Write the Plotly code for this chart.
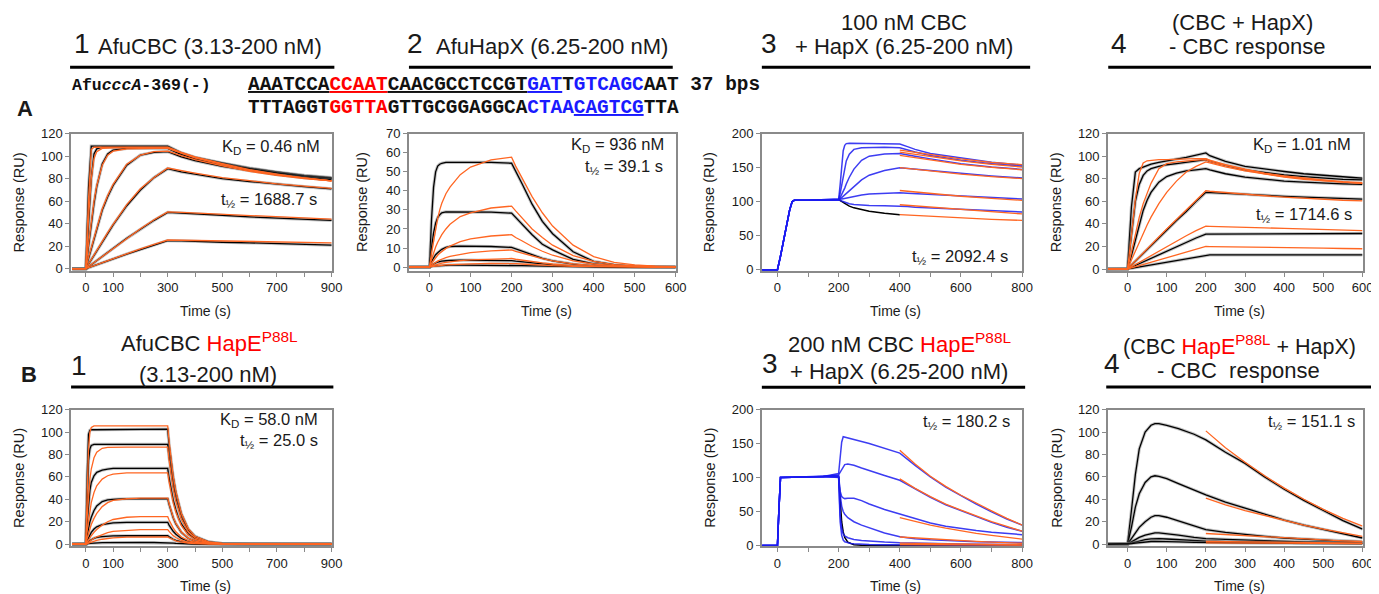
import plotly.graph_objects as go

# Layout positions below are given in the reference's pixel space (1379x594).
# The page is photographed with a small fixed offset/scale, which is undone here.
FIG_W, FIG_H = 1395, 594
X0, SX = 8.0, 0.991
Y0, SY = 14.5, 0.977
def fx(p): return ((p - X0) / SX) / FIG_W
def fy(p): return 1 - ((p - Y0) / SY) / FIG_H

FONT = "Arial, Liberation Sans, Helvetica, sans-serif"
MONO = "Liberation Mono, Courier New, monospace"
ORANGE = "#ff6622"
BLUE = "#1c1cf0"
RED = "#ff0000"
SEQBLUE = "#1a1aff"
FRAME = "#8a8a8a"

# ---------------- Panel A1: AfuCBC (3.13-200 nM) ----------------
A1_t = [-50, 0, 10, 20, 30, 40, 60, 80, 100, 150, 200, 250, 300, 350, 400, 500, 600, 700, 800, 900]
A1_data = [
    [0, 0, 72, 109, 109, 109, 109, 109, 109, 109, 109, 109, 109, 103, 99, 94, 89.5, 86, 83, 81],
    [0, 0, 40, 80, 102, 106.5, 108, 108, 108, 108, 108, 108, 108, 102.5, 98.5, 93.5, 89, 85.5, 82.5, 80.5],
    [0, 0, 20, 40, 58, 73, 93, 102, 105.5, 107, 107, 107, 107, 101.5, 97.5, 92.5, 88.5, 85, 82, 80],
    [0, 0, 9, 18, 27, 35, 52, 64, 74, 92, 101, 103.5, 104, 99.5, 96, 91, 87, 83.5, 81, 79],
    [0, 0, 4, 8, 12, 16, 24, 31.5, 39, 56, 70, 81, 89, 86, 84, 80, 77.5, 75, 73, 71],
    [0, 0, 1.8, 3.6, 5.4, 7.2, 10.8, 14.4, 18, 27, 35, 43, 50, 49.5, 48.5, 47.5, 46, 45, 44, 43],
    [0, 0, 0.9, 1.8, 2.7, 3.6, 5.3, 7, 8.8, 13, 17, 21, 25, 24.7, 24.2, 23.5, 23, 22.2, 21.5, 21],
]
A1_fit = [
    [0, 0, 62, 106, 108, 108, 108, 108, 108, 108, 108, 108, 108, 103.5, 99.5, 93.5, 88, 84, 80.5, 78],
    [0, 0, 45, 80, 98, 104, 107, 107.5, 107.5, 107.5, 107.5, 107.5, 107.5, 103, 99, 93, 87.5, 83.5, 80.5, 78],
    [0, 0, 22, 42, 60, 74, 92, 101, 104.5, 106.5, 107, 107, 107, 102.5, 98.5, 92.5, 87.5, 83.5, 80.5, 78],
    [0, 0, 10, 19, 28, 36, 53, 65, 75, 93, 101, 104, 104.5, 100.5, 97, 91.5, 86.5, 83, 80, 78],
    [0, 0, 4.2, 8.3, 12.4, 16.4, 24.4, 32, 39.5, 57, 71, 81, 89.5, 87, 85, 81, 78, 75.5, 73.5, 71.5],
    [0, 0, 1.9, 3.7, 5.5, 7.3, 11, 14.6, 18.3, 27.3, 35.5, 43.5, 50.5, 50, 49.5, 48.5, 47.5, 46, 45, 44],
    [0, 0, 1, 1.9, 2.8, 3.7, 5.5, 7.3, 9.1, 13.5, 17.6, 21.7, 25.5, 25.3, 25.1, 24.7, 24.3, 23.8, 23.4, 23],
]

# ---------------- Panel A2: AfuHapX (6.25-200 nM) ----------------
A2_t = [-50, 0, 5, 10, 15, 20, 25, 30, 40, 50, 75, 100, 150, 200, 210, 225, 250, 275, 300, 350, 400, 450, 500, 550, 600]
A2_data = [
    [0, 0, 25, 42, 50, 53, 54, 54.5, 55, 55, 55, 55, 55, 54.5, 50, 44, 33, 24, 17.5, 8, 3, 1.2, 0.4, 0.1, 0],
    [0, 0, 10, 18, 23, 26, 27.5, 28.5, 29, 29, 29, 29, 28.8, 28.3, 26, 23, 17, 12, 9, 4, 1.6, 0.6, 0.2, 0, 0],
    [0, 0, 3, 5, 6.5, 7.5, 8.5, 9.3, 10.3, 10.8, 11, 11, 10.8, 10.3, 9.5, 8.5, 6.5, 4.6, 3.3, 1.5, 0.6, 0.2, 0.1, 0, 0],
    [0, 0, 1, 1.7, 2.2, 2.6, 2.9, 3.1, 3.3, 3.5, 3.6, 3.6, 3.5, 3.4, 3.1, 2.8, 2.2, 1.6, 1.1, 0.5, 0.2, 0.1, 0, 0, 0],
    [0, 0, 0.3, 0.5, 0.6, 0.7, 0.8, 0.85, 0.9, 1, 1, 1, 1, 0.9, 0.85, 0.75, 0.6, 0.45, 0.3, 0.15, 0.05, 0, 0, 0, 0],
]
A2_fit = [
    [0, 0, 7.5, 14, 20, 25.5, 30, 33.5, 38.5, 42, 48.5, 52.5, 56.3, 57.7, 53, 47, 37, 28.5, 21.5, 11.5, 5.5, 2.5, 1.1, 0.5, 0.2],
    [0, 0, 4, 7.5, 10.5, 13, 15, 17, 20, 22.5, 26.5, 28.5, 31, 32, 29.5, 26, 20, 15.5, 11.5, 6, 3, 1.3, 0.6, 0.3, 0.1],
    [0, 0, 2, 3.5, 5, 6.2, 7.2, 8.2, 9.8, 11, 13.3, 14.8, 16.3, 17, 15.5, 13.8, 10.8, 8.3, 6.2, 3.2, 1.6, 0.7, 0.3, 0.1, 0],
    [0, 0, 1, 1.8, 2.5, 3.1, 3.7, 4.2, 5, 5.6, 6.8, 7.6, 8.5, 9, 8.2, 7.3, 5.7, 4.4, 3.3, 1.7, 0.8, 0.4, 0.2, 0.1, 0],
    [0, 0, 0.5, 0.9, 1.3, 1.6, 1.9, 2.1, 2.5, 2.8, 3.4, 3.8, 4.3, 4.5, 4.1, 3.6, 2.8, 2.2, 1.6, 0.8, 0.4, 0.2, 0.1, 0, 0],
    [0, 0, 0.2, 0.4, 0.6, 0.7, 0.85, 0.95, 1.1, 1.25, 1.5, 1.7, 1.9, 2, 1.8, 1.6, 1.25, 0.95, 0.7, 0.35, 0.18, 0.08, 0.04, 0, 0],
]

# ---------------- Panel A3: 100 nM CBC + HapX ----------------
A3_t1 = [-50, 0, 10, 20, 30, 40, 48, 55, 100, 150]
A3_assoc = [0, 0, 20, 42, 65, 88, 100, 102, 102, 102.5]
A3_t2 = [200, 205, 210, 215, 220, 225, 235, 250, 275, 300, 350, 400, 425, 450, 500, 600, 700, 800]
A3_hapx = [
    [103, 125, 155, 175, 183, 185.5, 186, 186, 186, 186, 185.5, 185, 181, 177, 171, 164, 158, 154],
    [103, 112, 125, 140, 152, 160, 170, 177, 179.5, 180, 180, 179.5, 176, 173, 168, 161, 156, 152],
    [103, 106, 110, 115, 120, 126, 136, 148, 161, 167, 170, 171, 169.5, 167, 163, 156, 151, 147.5],
    [103, 104, 106, 108, 110, 112, 116, 122, 132, 139, 146, 150, 149, 148, 145.5, 141, 138, 135],
    [103, 103.5, 104, 104.5, 105, 105.5, 106.5, 108, 110, 111.5, 112.5, 113, 112.5, 112, 110.5, 108, 106, 104],
    [103, 102, 101, 100, 99, 98, 97, 96, 95, 94.5, 94, 94, 93, 92, 91, 89, 87, 85],
]
A3_cbc = [103, 102, 100.5, 99, 97.5, 96, 93.5, 91, 88, 86, 83, 81]
A3_tf = [400, 500, 600, 700, 800]
A3_fit = [
    [176, 169, 163, 158, 154.5],
    [173, 166, 160, 155, 151],
    [168, 161, 155, 150.5, 147],
    [150, 145, 140.5, 137, 134],
    [116.5, 112, 108, 105, 102],
    [95.5, 92, 88.5, 85, 82],
    [81, 78.5, 76, 74, 72.5],
]

# ---------------- Panel A4: (CBC + HapX) - CBC response ----------------
A4_t = [-50, 0, 10, 20, 30, 40, 50, 60, 80, 100, 125, 150, 175, 200, 210, 225, 250, 300, 350, 400, 450, 500, 550, 600]
A4_data = [
    [0, 0, 55, 86, 89, 90.5, 92, 93, 94.5, 96, 97.5, 99, 101, 103, 100.5, 98.5, 95.5, 91, 88.5, 86.5, 84.5, 83, 81.5, 80.5],
    [0, 0, 30, 60, 75, 83, 87, 89, 91, 92.5, 93.5, 94.5, 95.5, 97, 95.5, 94, 92, 88, 85.5, 83.5, 82, 80.5, 79.5, 79],
    [0, 0, 12, 26, 40, 52, 61, 68, 77, 82, 85, 87, 88, 89, 88, 86.5, 84.5, 81.5, 79.5, 78, 77, 76, 75.5, 75],
    [0, 0, 3.5, 7, 10.5, 14, 17.5, 21, 28, 35, 43, 51, 60, 68, 67.8, 67.5, 67, 66, 65.3, 64.5, 63.8, 63, 62.5, 62],
    [0, 0, 1.6, 3.2, 4.8, 6.4, 8, 9.6, 12.8, 16, 20, 24, 27.5, 31, 31, 31.2, 31.3, 31.5, 31.5, 31.5, 31.5, 31.5, 31.5, 31.5],
    [0, 0, 0.6, 1.3, 1.9, 2.6, 3.2, 3.9, 5.2, 6.5, 8, 9.5, 11, 12.5, 12.5, 12.5, 12.5, 12.5, 12.5, 12.5, 12.5, 12.5, 12.5, 12.5],
]
A4_fit = [
    [0, 0, 30, 62, 85, 94, 96, 96.5, 97, 97, 97.5, 97.5, 98, 98, 96.5, 95, 92.5, 88.5, 85, 82.5, 80.5, 79, 77.5, 76.5],
    [0, 0, 15, 31, 46, 58, 68, 76, 89, 93.5, 95, 96, 96.5, 97, 95.5, 94, 92, 88, 84.5, 82, 80, 78.5, 77, 76],
    [0, 0, 8, 16, 24, 32, 39, 46, 58, 68, 78, 86, 91, 95, 94, 92.5, 90.5, 87, 84, 81.5, 79.5, 78, 77, 76],
    [0, 0, 3.6, 7.2, 10.8, 14.4, 18, 21.5, 28.5, 35.5, 44, 52.5, 61, 69.5, 69, 68.5, 67.8, 66.5, 65, 63.8, 62.8, 62, 61, 60.5],
    [0, 0, 2, 4, 6, 8, 10, 12, 16, 20, 25, 29.5, 34, 38, 37.9, 37.7, 37.5, 37, 36.5, 36, 35.5, 35, 34.5, 34],
    [0, 0, 1, 2, 3, 4, 5, 6, 8, 10, 12.5, 15, 17.5, 20, 19.9, 19.8, 19.7, 19.5, 19.2, 19, 18.7, 18.5, 18.2, 18],
]

# ---------------- Panel B1: AfuCBC HapE P88L ----------------
B1_t = [-50, 0, 5, 10, 15, 20, 30, 40, 60, 80, 100, 150, 200, 250, 300, 305, 310, 320, 330, 340, 350, 375, 400, 450, 500, 600, 700, 800, 900]
B1_data = [
    [0, 0, 60, 98, 101.5, 102, 102, 102, 102, 102, 102.5, 102.5, 102.5, 102.5, 102.5, 89, 78, 60, 46, 35, 27, 13.5, 7, 2, 0.6, 0.1, 0, 0, 0],
    [0, 0, 40, 75, 85, 88, 89, 89, 89, 89, 89, 89, 89, 89, 89, 77.5, 68, 52, 40, 30.5, 23.5, 11.7, 6, 1.8, 0.5, 0.1, 0, 0, 0],
    [0, 0, 20, 38, 48, 55, 61, 64, 66, 67, 67.5, 67.5, 67.5, 67.5, 67.5, 59, 51.5, 39.5, 30.5, 23, 18, 9, 4.5, 1.4, 0.4, 0.1, 0, 0, 0],
    [0, 0, 8, 15, 20, 24, 30, 34, 38, 39.5, 40, 40.5, 40.5, 40.5, 40.5, 35.5, 31, 23.5, 18, 14, 10.5, 5.3, 2.7, 0.8, 0.2, 0, 0, 0, 0],
    [0, 0, 3, 6, 8.5, 10.5, 13.5, 15.5, 17.5, 18.5, 19, 19.5, 19.5, 19.5, 19.5, 17, 15, 11.5, 8.8, 6.7, 5.1, 2.6, 1.3, 0.4, 0.1, 0, 0, 0, 0],
    [0, 0, 1.2, 2.3, 3.2, 4, 5.2, 6, 6.8, 7.2, 7.4, 7.5, 7.5, 7.5, 7.5, 6.6, 5.7, 4.4, 3.4, 2.6, 2, 1, 0.5, 0.15, 0, 0, 0, 0, 0],
    [0, 0, 0.3, 0.5, 0.7, 0.8, 1, 1.2, 1.3, 1.4, 1.5, 1.5, 1.5, 1.5, 1.5, 1.3, 1.1, 0.9, 0.7, 0.5, 0.4, 0.2, 0.1, 0, 0, 0, 0, 0, 0],
]
B1_fit = [
    [0, 0, 45, 85, 100, 104, 105.5, 105.5, 105.5, 105.5, 105.5, 105.5, 105.5, 105.5, 105.5, 92, 80, 61, 47, 36, 27.5, 14, 7, 2, 0.6, 0.1, 0, 0, 0],
    [0, 0, 25, 45, 58, 67, 77, 82, 85.5, 86.3, 86.5, 86.5, 86.5, 86.5, 86.5, 75, 66, 50, 38.5, 29.5, 22.5, 11.3, 5.7, 1.5, 0.4, 0.1, 0, 0, 0],
    [0, 0, 12, 22, 30, 37, 46, 52, 58, 61, 62.5, 63.5, 63.5, 63.5, 63.5, 55.5, 48.5, 37, 28.5, 21.5, 16.5, 8.3, 4.2, 1.1, 0.3, 0, 0, 0, 0],
    [0, 0, 5, 10, 14, 17.5, 23, 27.5, 33.5, 37, 39, 40.5, 41, 41, 41, 36, 31.5, 24, 18.5, 14, 10.8, 5.4, 2.7, 0.7, 0.2, 0, 0, 0, 0],
    [0, 0, 2, 4, 5.8, 7.5, 10.5, 13, 17, 20, 22, 24, 24.5, 24.5, 24.5, 21.5, 19, 14.5, 11, 8.4, 6.4, 3.2, 1.6, 0.4, 0.1, 0, 0, 0, 0],
    [0, 0, 1, 2, 2.9, 3.8, 5.3, 6.6, 8.8, 10.3, 11.4, 12.5, 13, 13, 13, 11.4, 10, 7.6, 5.9, 4.5, 3.4, 1.7, 0.9, 0.2, 0, 0, 0, 0, 0],
    [0, 0, 0.5, 1, 1.5, 1.9, 2.7, 3.3, 4.4, 5.2, 5.7, 6.3, 6.5, 6.5, 6.5, 5.7, 5, 3.8, 2.9, 2.2, 1.7, 0.9, 0.4, 0.1, 0, 0, 0, 0, 0],
]

# ---------------- Panel B3: 200 nM CBC HapE P88L + HapX ----------------
B3_t1 = [-50, 0, 5, 10, 50, 100, 150]
B3_assoc = [0, 0, 55, 100, 100.5, 101, 101.5]
B3_t2 = [200, 205, 210, 215, 220, 230, 240, 250, 275, 300, 350, 400, 450, 500, 550, 600, 650, 700, 750, 800]
B3_hapx = [
    [106, 130, 152, 160, 159.5, 158, 157, 156, 153, 150, 143, 136, 118, 101, 86, 73, 61, 49.5, 39, 30],
    [104, 108, 113, 117, 119, 120, 119.5, 118, 114, 110, 103, 96, 83, 71, 60, 51, 42, 34, 27, 21],
    [103, 80, 72, 70, 69, 69.5, 70, 69.5, 66, 61, 53, 46, 39, 33, 28.5, 25, 22, 19.5, 17.5, 16],
    [102, 75, 58, 50, 46, 41, 38, 35, 30, 26, 18.5, 13, 10, 8.3, 7.2, 6.3, 5.6, 5, 4.6, 4.3],
    [101, 45, 25, 17, 14, 11.5, 10, 9, 7.5, 6.5, 5, 4, 3.3, 2.8, 2.4, 2.1, 1.9, 1.7, 1.5, 1.4],
    [100, 35, 15, 8, 5.5, 4, 3, 2.5, 1.8, 1.4, 1, 0.8, 0.6, 0.5, 0.4, 0.4, 0.3, 0.3, 0.3, 0.3],
]
B3_cbc = [101, 60, 35, 20, 12, 5, 2.5, 1.2, 0.3, 0, 0, 0, 0, 0, 0, 0, 0, 0, 0, 0]
B3_tf = [400, 450, 500, 550, 600, 650, 700, 750, 800]
B3_fit = [
    [140, 120, 102, 87, 74, 62, 51, 40, 30],
    [98, 84, 72, 61, 52, 43, 35, 28, 21],
    [41, 35, 30, 25.5, 21.5, 18, 15, 12, 9.5],
    [12.5, 11, 9.5, 8, 7, 6, 5, 4, 3.3],
    [3.5, 3.1, 2.7, 2.4, 2.1, 1.8, 1.5, 1.2, 1],
    [1.5, 1.3, 1.1, 1, 0.9, 0.8, 0.7, 0.6, 0.5],
]

# ---------------- Panel B4: (CBC HapE P88L + HapX) - CBC response ----------------
B4_t = [-50, 0, 10, 20, 30, 45, 60, 70, 80, 100, 130, 170, 200, 250, 300, 350, 400, 450, 500, 550, 600]
B4_data = [
    [0, 0, 30, 62, 85, 100, 106, 107.5, 107.5, 106, 103, 98, 93, 82, 72, 60, 49, 39, 30, 21, 13.5],
    [0, 0, 15, 33, 45, 55, 60, 61, 60.5, 58.5, 54, 48, 44, 37.5, 32, 26.5, 21.5, 17, 13, 9, 5.5],
    [0, 0, 5, 10, 15, 20, 24, 25.5, 25.5, 24, 20.5, 16, 13, 10.5, 8.5, 7, 5.5, 4.5, 3.5, 2.8, 2.2],
    [0, 0, 2, 4, 6, 8, 9.5, 10, 10, 9.3, 8, 6, 5, 4.2, 3.5, 3, 2.5, 2, 1.7, 1.4, 1.1],
    [0, 0, 1, 2, 3, 4, 4.7, 5, 5, 4.6, 4, 3.2, 2.7, 2.3, 2, 1.7, 1.4, 1.2, 1, 0.8, 0.7],
    [0, 0, 0.5, 1, 1.5, 2, 2.4, 2.5, 2.5, 2.3, 2, 1.6, 1.4, 1.2, 1, 0.9, 0.8, 0.7, 0.6, 0.5, 0.4],
]
B4_tf = [200, 250, 300, 350, 400, 450, 500, 550, 600]
B4_fit = [
    [101, 86, 73, 61, 50, 40, 31, 23, 16],
    [41, 35, 30, 25.5, 21, 17, 13.5, 10, 7],
    [9.5, 8.5, 7.5, 6.5, 5.5, 4.6, 3.8, 3, 2.4],
    [2.5, 2.3, 2.1, 1.9, 1.7, 1.5, 1.3, 1.1, 1],
    [1.2, 1.1, 1, 0.9, 0.8, 0.7, 0.6, 0.5, 0.4],
]

# ---------------- figure ----------------
fig = go.Figure()

def axref(n):
    return ("x", "y") if n == 1 else (f"x{n}", f"y{n}")

def data_line(n, t, v, color="black", halo=True, width=1.3, opacity=1.0):
    xa, ya = axref(n)
    if halo:
        fig.add_trace(go.Scatter(x=t, y=v, mode="lines", xaxis=xa, yaxis=ya,
                                 line=dict(color="rgba(120,120,120,0.45)", width=3.2),
                                 hoverinfo="skip", showlegend=False))
    fig.add_trace(go.Scatter(x=t, y=v, mode="lines", xaxis=xa, yaxis=ya, opacity=opacity,
                             line=dict(color=color, width=width),
                             hoverinfo="skip", showlegend=False))

def fit_line(n, t, v):
    xa, ya = axref(n)
    fig.add_trace(go.Scatter(x=t, y=v, mode="lines", xaxis=xa, yaxis=ya,
                             line=dict(color=ORANGE, width=1.3),
                             hoverinfo="skip", showlegend=False))

for v in A1_data: data_line(1, A1_t, v)
for v in A1_fit: fit_line(1, A1_t, v)
for v in A2_data: data_line(2, A2_t, v)
for v in A2_fit: fit_line(2, A2_t, v)
data_line(3, A3_t2[:len(A3_cbc)], A3_cbc, halo=False, width=1.5)
for v in A3_hapx:
    data_line(3, A3_t1 + A3_t2, A3_assoc + v, color=BLUE, halo=False, width=1.5, opacity=0.85)
for v in A3_fit: fit_line(3, A3_tf, v)
for v in A4_data: data_line(4, A4_t, v)
for v in A4_fit: fit_line(4, A4_t, v)
for v in B1_data: data_line(5, B1_t, v)
for v in B1_fit: fit_line(5, B1_t, v)
data_line(6, B3_t2, B3_cbc, halo=False, width=1.5)
for v in B3_hapx:
    data_line(6, B3_t1 + B3_t2, B3_assoc + v, color=BLUE, halo=False, width=1.5, opacity=0.85)
for v in B3_fit: fit_line(6, B3_tf, v)
for v in B4_data: data_line(7, B4_t, v)
for v in B4_fit: fit_line(7, B4_tf, v)

# ---------------- axes ----------------
ROW_A = (133.3, 270.7)
ROW_B = (409.3, 546)
RIGHT = (1106.7, 1361)
specs = {
    1: dict(x=(71, 332), y=ROW_A, xr=[-54, 903], yr=[-2.1, 120], xt=[0, 100, 300, 500, 700, 900], yd=20, ytoff=52),
    2: dict(x=(408.3, 675), y=ROW_A, xr=[-50.5, 600], yr=[-2.1, 70], xt=[0, 100, 200, 300, 400, 500, 600], yd=10, ytoff=46),
    3: dict(x=(761, 1021), y=ROW_A, xr=[-51, 800], yr=[-2, 200], xt=[0, 200, 400, 600, 800], yd=50, ytoff=52),
    4: dict(x=RIGHT, y=ROW_A, xr=[-50, 600], yr=[-1.8, 120], xt=[0, 100, 200, 300, 400, 500, 600], yd=20, ytoff=51),
    5: dict(x=(71, 332), y=ROW_B, xr=[-54, 903], yr=[-1.8, 120], xt=[0, 100, 300, 500, 700, 900], yd=20, ytoff=52),
    6: dict(x=(761, 1021), y=ROW_B, xr=[-51, 800], yr=[-1, 200], xt=[0, 200, 400, 600, 800], yd=50, ytoff=52),
    7: dict(x=RIGHT, y=ROW_B, xr=[-50, 600], yr=[-1.8, 120], xt=[0, 100, 200, 300, 400, 500, 600], yd=20, ytoff=51),
}

layout_axes = {}
annotations = []
for n, s in specs.items():
    xk = "xaxis" if n == 1 else f"xaxis{n}"
    yk = "yaxis" if n == 1 else f"yaxis{n}"
    xa, ya = axref(n)
    common = dict(showline=True, linecolor=FRAME, linewidth=1.5, mirror=True,
                  ticks="outside", ticklen=4, tickwidth=1.2, tickcolor=FRAME,
                  showgrid=False, zeroline=False,
                  tickfont=dict(family=FONT, size=13, color="#1a1a1a"))
    layout_axes[xk] = dict(common, domain=[fx(s["x"][0]), fx(s["x"][1])], anchor=ya,
                           range=s["xr"], tickmode="array", tickvals=s["xt"],
                           minor=dict(dtick=100, tick0=0, ticks="outside", ticklen=4,
                                      tickwidth=1.2, tickcolor=FRAME, showgrid=False))
    layout_axes[yk] = dict(common, domain=[fy(s["y"][1]), fy(s["y"][0])], anchor=xa,
                           range=s["yr"], tickmode="linear", tick0=0, dtick=s["yd"])
    annotations.append(dict(text="Time (s)", xref="paper", yref="paper",
                            x=fx((s["x"][0] + s["x"][1]) / 2 + 4), y=fy(s["y"][1] + 39.5),
                            xanchor="center", yanchor="middle", showarrow=False,
                            font=dict(family=FONT, size=14, color="#1a1a1a")))
    annotations.append(dict(text="Response (RU)", xref="paper", yref="paper", textangle=-90,
                            x=fx(s["x"][0] - s["ytoff"]), y=fy((s["y"][0] + s["y"][1]) / 2),
                            xanchor="center", yanchor="middle", showarrow=False,
                            font=dict(family=FONT, size=14.5, color="#1a1a1a")))

def txt(text, x, y, size, xanchor="center", family=FONT, color="#1a1a1a"):
    annotations.append(dict(text=text, xref="paper", yref="paper", x=fx(x), y=fy(y),
                            xanchor=xanchor, yanchor="middle", showarrow=False,
                            font=dict(family=family, size=size, color=color)))

KD = "K<sub>D</sub> = "
TH = "t<sub>½</sub> = "
txt(KD + "0.46 nM", 322, 147, 16.5, "right")
txt(TH + "1688.7 s", 319, 200, 16.5, "right")
txt(KD + "936 nM", 665, 145, 16.5, "right")
txt(TH + "39.1 s", 664, 167, 16.5, "right")
txt(TH + "2092.4 s", 1009, 257, 16.5, "right")
txt(KD + "1.01 nM", 1351, 145, 16.5, "right")
txt(TH + "1714.6 s", 1352, 215, 16.5, "right")
txt(KD + "58.0 nM", 320, 420, 16.5, "right")
txt(TH + "25.0 s", 320, 441, 16.5, "right")
txt(TH + "180.2 s", 1011, 422, 16.5, "right")
txt(TH + "151.1 s", 1355, 422, 16.5, "right")

HS = 22
DS = 28
txt("1", 81.7, 43, DS)
txt("AfuCBC (3.13-200 nM)", 96, 46.5, HS, "left")
txt("2", 415, 43, DS)
txt("AfuHapX (6.25-200 nM)", 434, 46.5, HS, "left")
txt("100 nM CBC", 903, 22.5, HS)
txt("3", 768, 43, DS)
txt("+ HapX (6.25-200 nM)", 792, 46.5, HS, "left")
txt("(CBC + HapX)", 1241, 22.5, HS)
txt("4", 1118, 43, DS)
txt("- CBC response", 1246, 46.5, HS)

RH = f'<span style="color:{RED}">HapE<sup>P88L</sup></span>'
txt("AfuCBC " + RH, 209, 342, HS)
txt("(3.13-200 nM)", 208, 374, HS)
txt("1", 79, 365, DS)
txt("200 nM CBC " + RH, 898, 343, HS)
txt("+ HapX (6.25-200 nM)", 898, 371, HS)
txt("3", 769, 363, DS)
txt("(CBC " + RH + " + HapX)", 1238, 345, 21.5)
txt("- CBC  response", 1237, 370.5, HS)
txt("4", 1111, 363, DS)

txt("<b>A</b>", 25, 108, 22)
txt("<b>B</b>", 29, 374, 22)

R = f'<span style="color:{RED}">'
B = f'<span style="color:{SEQBLUE}">'
E = '</span>'
seq_label = "<b>Afu<i>cccA</i>-369(-)</b>"
seq_top = ("<b><u>AAATCCA</u>" + R + "<u>CCAAT</u>" + E + "<u>CAACGCCTCCGT</u>"
           + B + "<u>GAT</u>" + E + "T" + B + "GTCAGC" + E + "AAT 37 bps</b>")
seq_bot = ("<b>TTTAGGT" + R + "GGTTA" + E + "GTTGCGGAGGCA" + B + "CTAA<u>CAGTCG</u>" + E + "TTA</b>")
txt(seq_label, 70, 85, 16.5, "left", family=MONO, color="#111111")
txt(seq_top, 245.5, 85, 19.4, "left", family=MONO, color="#111111")
txt(seq_bot, 245.5, 108, 19.4, "left", family=MONO, color="#111111")

rules = [(70, 334, 66.7), (408.5, 672, 66.7), (761, 1029, 66.7), (1107, 1374, 66.7),
         (71, 333, 386.7), (761, 1024, 387), (1105, 1370, 386.7)]
shapes = [dict(type="line", xref="paper", yref="paper", x0=fx(a), x1=fx(b), y0=fy(y), y1=fy(y),
               line=dict(color="black", width=3)) for a, b, y in rules]

fig.update_layout(width=FIG_W, height=FIG_H, margin=dict(l=0, r=0, t=0, b=0),
                  paper_bgcolor="white", plot_bgcolor="white",
                  showlegend=False, annotations=annotations, shapes=shapes,
                  font=dict(family=FONT), **layout_axes)

fig.write_html("out.html")
